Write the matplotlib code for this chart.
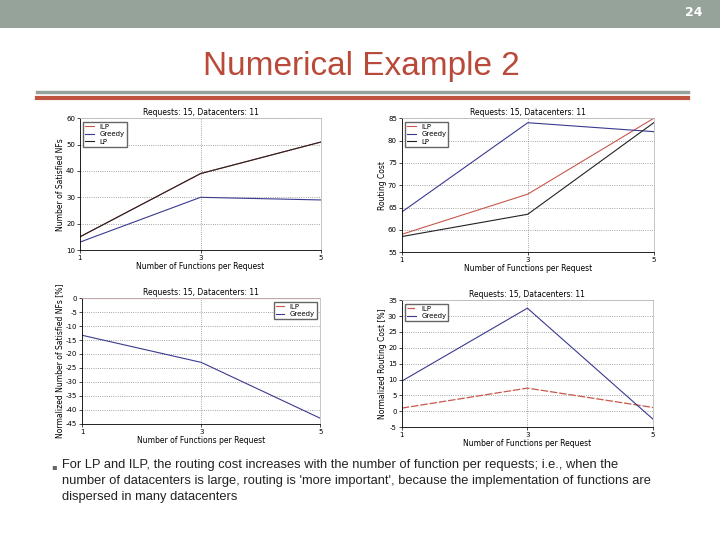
import matplotlib.pyplot as plt
from matplotlib.patches import Rectangle
from matplotlib.lines import Line2D

plt.rcParams["axes.unicode_minus"] = False

funcs = [1, 3, 5]
title_txt = "Requests: 15, Datacenters: 11"
xlab = "Number of Functions per Request"

# top left: number of satisfied NFs
sat_ilp = [15, 39, 51]
sat_greedy = [13, 30, 29]
sat_lp = [15, 39, 51]

# top right: routing cost
cost_ilp = [59, 68, 85]
cost_greedy = [64, 84, 82]
cost_lp = [58.5, 63.5, 84]

# bottom left: normalized satisfied NFs [%]
nsat_ilp = [0, 0, 0]
nsat_greedy = [-13.3, -23, -43]

# bottom right: normalized routing cost [%]
ncost_ilp = [1, 7.3, 1.2]
ncost_greedy = [9.5, 32.5, -2.5]

bullet = ("For LP and ILP, the routing cost increases with the number of function per requests; i.e., when the\n"
          "number of datacenters is large, routing is 'more important', because the implementation of functions are\n"
          "dispersed in many datacenters")

RED = "#c8584c"
NAVY = "#3a3a90"
DARK = "#222222"

fig = plt.figure(figsize=(7.2, 5.4), dpi=100)
fig.patch.set_facecolor("white")

# slide header
fig.add_artist(Rectangle((0, 1 - 28 / 540), 1, 28 / 540, transform=fig.transFigure,
                         facecolor="#95a39a", edgecolor="none"))
fig.text(703 / 720, 1 - 13 / 540, "24", color="white", fontsize=9, fontweight="bold",
         ha="right", va="center")
fig.text(361 / 720, 1 - 66 / 540, "Numerical Example 2", color="#b94a3a", fontsize=24,
         ha="center", va="center", family="Liberation Sans")
fig.add_artist(Line2D([37 / 720, 688 / 720], [1 - 92 / 540] * 2, color="#95a39a", lw=2.5,
                      transform=fig.transFigure))
fig.add_artist(Line2D([37 / 720, 688 / 720], [1 - 98 / 540] * 2, color="#c0543f", lw=3,
                      transform=fig.transFigure))


def style(ax, ylim, yticks, ylabel):
    ax.set_xlim(1, 5)
    ax.set_ylim(*ylim)
    ax.set_xticks(funcs)
    ax.set_yticks(yticks)
    ax.tick_params(labelsize=5, length=2, width=0.5, pad=1.5)
    ax.grid(True, linestyle=":", color="#888888", lw=0.6)
    for s in ["top", "right"]:
        ax.spines[s].set_color("#bbbbbb")
    for s in ax.spines.values():
        s.set_linewidth(0.6)
    ax.set_title(title_txt, fontsize=5.5, pad=2)
    ax.set_xlabel(xlab, fontsize=5.5, labelpad=1)
    ax.set_ylabel(ylabel, fontsize=5.5, labelpad=1)


def leg(ax, loc):
    ax.legend(loc=loc, fontsize=5, handlelength=1.2, borderpad=0.3,
              labelspacing=0.2, fancybox=False, edgecolor="#666666", framealpha=1)


ax1 = fig.add_axes([0.111, 0.537, 0.335, 0.244])
ax1.plot(funcs, sat_ilp, color=RED, lw=0.8, label="ILP")
ax1.plot(funcs, sat_greedy, color=NAVY, lw=0.8, label="Greedy")
ax1.plot(funcs, sat_lp, color=DARK, lw=0.8, label="LP")
style(ax1, (10, 60), range(10, 61, 10), "Number of Satisfied NFs")
leg(ax1, "upper left")

ax2 = fig.add_axes([0.558, 0.533, 0.35, 0.248])
ax2.plot(funcs, cost_ilp, color=RED, lw=0.8, label="ILP")
ax2.plot(funcs, cost_greedy, color=NAVY, lw=0.8, label="Greedy")
ax2.plot(funcs, cost_lp, color=DARK, lw=0.8, label="LP")
style(ax2, (55, 85), range(55, 86, 5), "Routing Cost")
leg(ax2, "upper left")

ax3 = fig.add_axes([0.114, 0.215, 0.331, 0.233])
ax3.plot(funcs, nsat_ilp, color=RED, lw=0.8, label="ILP")
ax3.plot(funcs, nsat_greedy, color=NAVY, lw=0.8, label="Greedy")
style(ax3, (-45, 0), range(-45, 1, 5), "Normalized Number of Satisfied NFs [%]")
leg(ax3, "upper right")

ax4 = fig.add_axes([0.558, 0.209, 0.349, 0.235])
ax4.plot(funcs, ncost_ilp, color=RED, lw=0.9, dashes=(6, 1.5), label="ILP")
ax4.plot(funcs, ncost_greedy, color=NAVY, lw=0.8, label="Greedy")
style(ax4, (-5, 35), range(-5, 36, 5), "Normalized Routing Cost [%]")
leg(ax4, "upper left")

# bullet text
fig.text(51 / 720, 1 - 467 / 540, "▪", fontsize=6, color="#666666", ha="left", va="center")
fig.text(62 / 720, 1 - 459 / 540, bullet, fontsize=9.3, color="#222222", ha="left", va="top",
         linespacing=1.42, family="Liberation Sans")

fig.savefig("out.png", dpi=100)
